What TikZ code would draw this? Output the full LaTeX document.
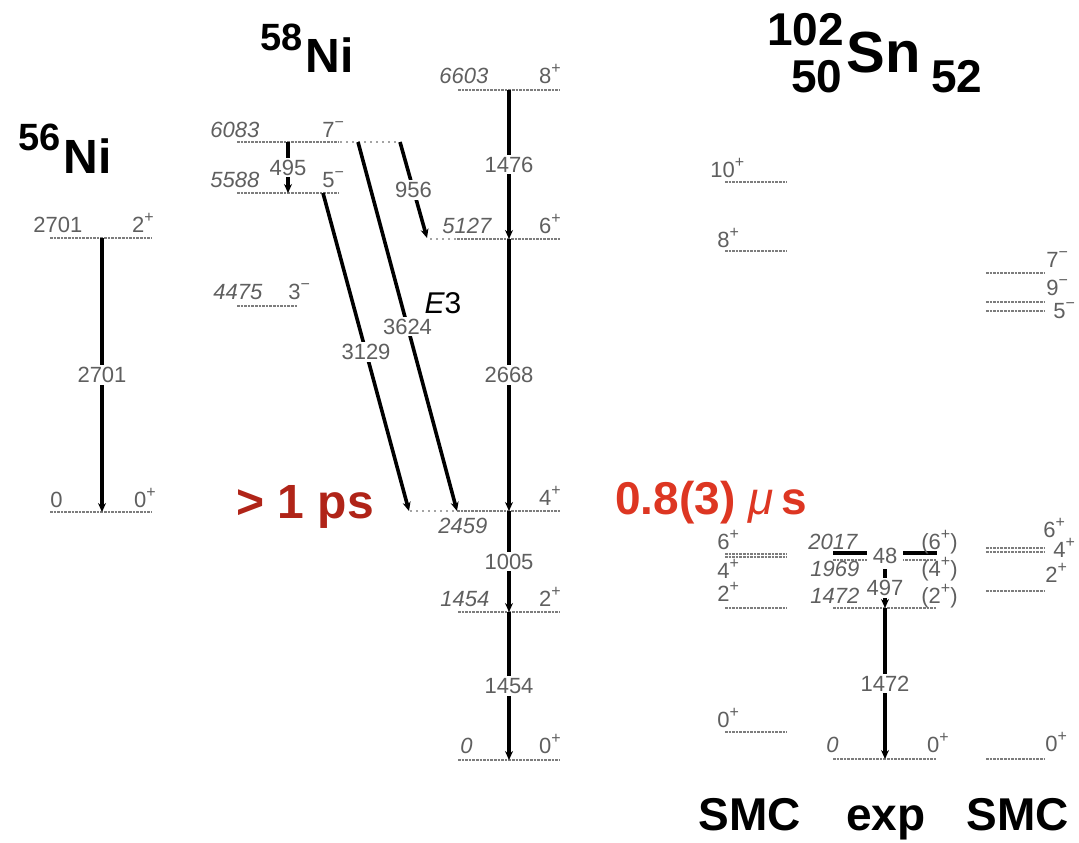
\documentclass[tikz,border=0pt]{standalone}
\usepackage{fontspec}
\setmainfont{Liberation Sans}
\usetikzlibrary{arrows.meta}
\definecolor{txtgray}{RGB}{95,95,95}
\definecolor{levgray}{RGB}{125,125,125}
\definecolor{psred}{RGB}{176,36,24}
\definecolor{usred}{RGB}{221,54,34}
\newcommand\spn[2]{#1\raisebox{0.42em}{\fontsize{8}{8}\selectfont #2}}
\begin{document}
\begin{tikzpicture}[x=0.5pt,y=-0.5pt,
  lev/.style={draw=levgray,line width=1.1pt,dash pattern=on 1.3pt off 0.5pt},
  levx/.style={draw=levgray!70,line width=1pt,dash pattern=on 0.8pt off 2.2pt},
  thicklev/.style={draw=black,line width=2.2pt},
  gam/.style={draw=black,line width=1.8pt,-{Stealth[length=4.5pt,width=4pt]}},
  glab/.style={fill=white,text=txtgray,font=\fontsize{11}{12}\selectfont,inner sep=1pt},
  elab/.style={text=txtgray,font=\fontsize{11}{12}\selectfont\itshape,inner sep=0pt},
  ulab/.style={text=txtgray,font=\fontsize{11}{12}\selectfont,inner sep=0pt},
  title/.style={font=\bfseries,inner sep=0pt,text=black},
  bottomlab/.style={font=\bfseries\fontsize{23}{23}\selectfont,inner sep=0pt,anchor=base},
]
\useasboundingbox (0,0) rectangle (1079,842);

% ---------------- 56Ni ----------------
\node[title,anchor=base west] (t56m) at (18,150) {\fontsize{19}{19}\selectfont 56};
\node[title,anchor=base west] (t56e) at (63,173) {\fontsize{24}{24}\selectfont Ni};
\draw[lev] (50,238) coordinate (n56al) -- (152,238) coordinate (n56ar);
\draw[lev] (50,512) coordinate (n56bl) -- (152,512) coordinate (n56br);
\node[ulab,anchor=base west] (e56a) at (33,232) {2701};
\node[ulab,anchor=base east] (s56a) at (154,232) {\spn{2}{+}};
\node[ulab,anchor=base west] (e56b) at (50,507) {0};
\node[ulab,anchor=base east] (s56b) at (156,507) {\spn{0}{+}};
\coordinate (g56a) at (102,238);
\coordinate (g56b) at (102,512);
\draw[gam] (g56a) -- node[glab] (l2701) {2701} (g56b);

% ---------------- 58Ni ----------------
\node[title,anchor=base west] (t58m) at (260,50) {\fontsize{19}{19}\selectfont 58};
\node[title,anchor=base west] (t58e) at (305,72) {\fontsize{24}{24}\selectfont Ni};
% levels
\draw[lev] (237,142) -- (338,142);
\draw[levx] (340,142) -- (400,142);
\draw[lev] (237,193) -- (338,193);
\draw[lev] (237,306) -- (298,306);
\draw[lev] (458,90) -- (560,90);
\draw[levx] (430,239) -- (456,239);
\draw[lev] (457,239) -- (560,239);
\draw[levx] (410,511) -- (456,511);
\draw[lev] (457,511) -- (560,511);
\draw[lev] (458,612) -- (560,612);
\draw[lev] (458,760) -- (560,760);
% level labels
\node[elab,anchor=base west] (e6083) at (210,137) {6083};
\node[ulab,anchor=base west] (s6083) at (322,137) {\spn{7}{−}};
\node[elab,anchor=base west] (e5588) at (210,187) {5588};
\node[ulab,anchor=base west] (s5588) at (322,187) {\spn{5}{−}};
\node[elab,anchor=base west] (e4475) at (213,299) {4475};
\node[ulab,anchor=base west] (s4475) at (288,299) {\spn{3}{−}};
\node[elab,anchor=base west] (e6603) at (439,83) {6603};
\node[ulab,anchor=base east] (s6603) at (561,83) {\spn{8}{+}};
\node[elab,anchor=base west] (e5127) at (442,233) {5127};
\node[ulab,anchor=base east] (s5127) at (561,233) {\spn{6}{+}};
\node[elab,anchor=base west] (e2459) at (438,533) {2459};
\node[ulab,anchor=base east] (s2459) at (561,505) {\spn{4}{+}};
\node[elab,anchor=base west] (e1454) at (440,606) {1454};
\node[ulab,anchor=base east] (s1454) at (561,606) {\spn{2}{+}};
\node[elab,anchor=base west] (e0) at (460,753) {0};
\node[ulab,anchor=base east] (s0) at (561,753) {\spn{0}{+}};
% transitions
\coordinate (p6083a) at (288,142);
\coordinate (p5588a) at (288,193);
\draw[gam] (p6083a) -- node[glab] (l495) {495} (p5588a);
\coordinate (p6603) at (509,90);
\coordinate (p5127) at (509,239);
\coordinate (p2459) at (509,511);
\coordinate (p1454) at (509,612);
\coordinate (p0) at (509,760);
\draw[gam] (p6603) -- node[glab] (l1476) {1476} (p5127);
\draw[gam] (p5127) -- node[glab] (l2668) {2668} (p2459);
\draw[gam] (p2459) -- node[glab] (l1005) {1005} (p1454);
\draw[gam] (p1454) -- node[glab] (l1454) {1454} (p0);
\coordinate (p956a) at (400,142);
\coordinate (p956b) at (427,238);
\draw[gam] (p956a) -- node[glab] (l956) {956} (p956b);
\coordinate (p3624a) at (358,142);
\coordinate (p3624b) at (457,511);
\draw[gam] (p3624a) -- node[glab] (l3624) {3624} (p3624b);
\coordinate (p3129a) at (323,193);
\coordinate (p3129b) at (409,511);
\draw[gam] (p3129a) -- node[glab] (l3129) {3129} (p3129b);
\node[inner sep=0pt,font=\fontsize{15}{15}\selectfont\itshape] (e3) at (443,303) {E\upshape 3};
% lifetime
\node[anchor=base west,inner sep=0pt,text=psred,font=\bfseries\fontsize{24}{24}\selectfont] (ps) at (236,518) {> 1 ps};

% ---------------- 102Sn ----------------
\node[title,anchor=base west] (tsnA) at (767,45) {\fontsize{23}{23}\selectfont 102};
\node[title,anchor=base west] (tsnS) at (846,72) {\fontsize{29}{29}\selectfont Sn};
\node[title,anchor=base west] (tsnZ) at (791,92) {\fontsize{23}{23}\selectfont 50};
\node[title,anchor=base west] (tsnN) at (931,92) {\fontsize{23}{23}\selectfont 52};
\node[anchor=base west,inner sep=0pt,text=usred,font=\bfseries\fontsize{23}{23}\selectfont] (us) at (615,514) {0.8(3) {\mdseries\itshape μ}\,s};

% SMC left
\draw[lev] (725,182) -- (787,182);
\draw[lev] (725,251) -- (787,251);
\draw[lev] (725,554) -- (787,554);
\draw[lev] (725,557) -- (787,557);
\draw[lev] (725,608) -- (787,608);
\draw[lev] (725,732) -- (787,732);
\node[ulab,anchor=base west] (sl10) at (710,177) {\spn{10}{+}};
\node[ulab,anchor=base west] (sl8) at (717,247) {\spn{8}{+}};
\node[ulab,anchor=base west] (sl6) at (717,549) {\spn{6}{+}};
\node[ulab,anchor=base west] (sl4) at (717,578) {\spn{4}{+}};
\node[ulab,anchor=base west] (sl2) at (717,601) {\spn{2}{+}};
\node[ulab,anchor=base west] (sl0) at (717,727) {\spn{0}{+}};

% exp
\draw[lev] (833,560) -- (937,560);
\draw[thicklev] (833,553) -- (937,553);
\draw[lev] (833,608) -- (937,608);
\draw[lev] (833,759) -- (937,759);
\node[glab,inner xsep=3pt] (l48) at (885,556) {48};
\node[elab,anchor=base west] (x2017) at (808,549) {2017};
\node[ulab,anchor=base east] (xs2017) at (958,549) {(\spn{6}{+})};
\node[elab,anchor=base west] (x1969) at (810,576) {1969};
\node[ulab,anchor=base east] (xs1969) at (958,576) {(\spn{4}{+})};
\node[elab,anchor=base west] (x1472) at (810,603) {1472};
\node[ulab,anchor=base east] (xs1472) at (958,603) {(\spn{2}{+})};
\node[elab,anchor=base west] (x0) at (826,752) {0};
\node[ulab,anchor=base east] (xs0) at (949,752) {\spn{0}{+}};
\coordinate (q1969) at (885,569);
\coordinate (q1472) at (885,608);
\coordinate (q0) at (885,759);
\draw[gam] (q1969) -- node[glab,pos=0.48] (l497) {497} (q1472);
\draw[gam] (q1472) -- node[glab] (l1472) {1472} (q0);

% SMC right
\draw[lev] (986,273) -- (1045,273);
\draw[lev] (986,302) -- (1045,302);
\draw[lev] (986,311) -- (1045,311);
\draw[lev] (986,548) -- (1045,548);
\draw[lev] (986,552) -- (1045,552);
\draw[lev] (986,591) -- (1045,591);
\draw[lev] (986,759) -- (1045,759);
\node[ulab,anchor=base west] (sr7) at (1046,267) {\spn{7}{−}};
\node[ulab,anchor=base west] (sr9) at (1046,295) {\spn{9}{−}};
\node[ulab,anchor=base west] (sr5) at (1053,318) {\spn{5}{−}};
\node[ulab,anchor=base west] (sr6) at (1043,537) {\spn{6}{+}};
\node[ulab,anchor=base west] (sr4) at (1053,557) {\spn{4}{+}};
\node[ulab,anchor=base west] (sr2) at (1045,582) {\spn{2}{+}};
\node[ulab,anchor=base west] (sr0) at (1045,751) {\spn{0}{+}};

% bottom labels
\node[bottomlab] (smc1) at (750,830) {SMC};
\node[bottomlab] (exp) at (886,830) {exp};
\node[bottomlab] (smc2) at (1018,830) {SMC};
\end{tikzpicture}
\end{document}
